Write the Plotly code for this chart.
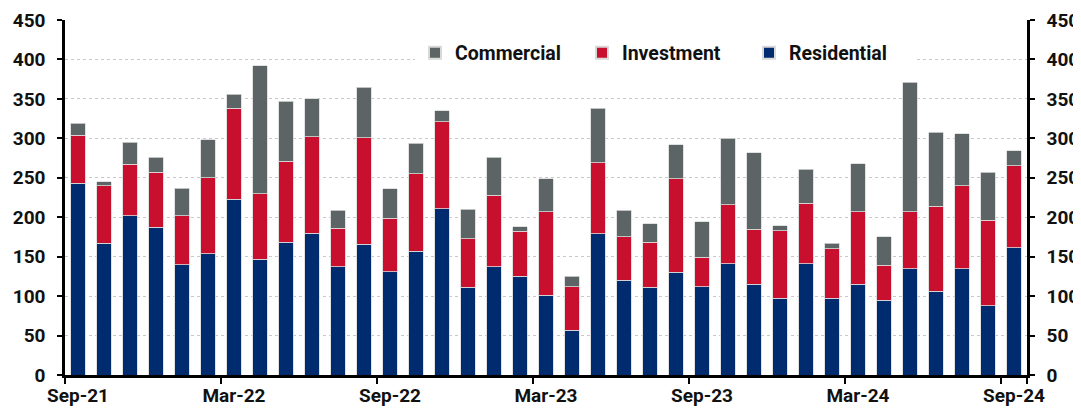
import plotly.graph_objects as go

months = ["Sep-21","Oct-21","Nov-21","Dec-21","Jan-22","Feb-22","Mar-22","Apr-22","May-22","Jun-22","Jul-22","Aug-22",
          "Sep-22","Oct-22","Nov-22","Dec-22","Jan-23","Feb-23","Mar-23","Apr-23","May-23","Jun-23","Jul-23","Aug-23",
          "Sep-23","Oct-23","Nov-23","Dec-23","Jan-24","Feb-24","Mar-24","Apr-24","May-24","Jun-24","Jul-24","Aug-24",
          "Sep-24"]
residential = [243,167,202,187,140,154,223,147,168,180,137,166,131,157,211,111,137,125,101,57,179,120,111,130,
               112,141,115,97,141,97,115,95,135,106,135,88,161]
investment = [61,73,65,70,62,96,115,83,103,122,49,135,68,98,110,62,91,57,106,55,90,55,57,119,
              37,75,70,86,77,63,92,44,72,108,105,108,104]
commercial = [15,5,28,19,35,48,18,162,76,48,23,64,37,39,14,37,48,6,42,13,69,34,24,43,
              45,84,97,6,43,7,61,36,164,94,66,61,19]
tick_labels = ["Sep-21","Mar-22","Sep-22","Mar-23","Sep-23","Mar-24","Sep-24"]
y_ticks = [0,50,100,150,200,250,300,350,400,450]

FONT = "Roboto"
FW = 700
FS = 19
line_style = dict(color="#d9d9d9", width=0.8)

fig = go.Figure()
fig.add_trace(go.Bar(x=months, y=residential, name="Residential", marker=dict(color="#002B6F", line=line_style)))
fig.add_trace(go.Bar(x=months, y=investment, name="Investment", marker=dict(color="#C8102E", line=line_style)))
fig.add_trace(go.Bar(x=months, y=commercial, name="Commercial", marker=dict(color="#5C6465", line=line_style)))
# invisible trace to carry the right-hand axis
fig.add_trace(go.Bar(x=months, y=[0]*len(months), yaxis="y2", showlegend=False, hoverinfo="skip",
                     marker=dict(color="rgba(0,0,0,0)")))

fig.update_layout(
    width=1073, height=400,
    margin=dict(l=57, r=54, t=12, b=33),
    barmode="stack", bargap=0.46,
    plot_bgcolor="white", paper_bgcolor="white",
    font=dict(family=FONT, size=FS, color="#111111", weight=FW),
    showlegend=True,
    legend=dict(orientation="h", traceorder="reversed", x=0.3638, y=0.907, xanchor="left", yanchor="middle",
                bgcolor="white", font=dict(size=19.5, family=FONT, weight=FW),
                itemwidth=30, entrywidth=122, entrywidthmode="pixels", itemsizing="constant"),
    xaxis=dict(type="category", categoryorder="array", categoryarray=months,
               tickvals=tick_labels, ticktext=tick_labels, tickson="boundaries", tickangle=0,
               ticks="outside", ticklen=6, tickwidth=2, tickcolor="black", automargin=False,
               showline=True, linecolor="black", linewidth=2.5, showgrid=False,
               range=[-0.5, len(months)-0.5], tickfont=dict(size=FS), zeroline=False,
               ticklabelstandoff=1, ticklabeloverflow="allow"),
    yaxis=dict(range=[0, 450], tickvals=y_ticks, ticks="outside", ticklen=5, tickwidth=2, tickcolor="black",
               showline=True, linecolor="black", linewidth=2.5, showgrid=True, gridcolor="#c8c8c8",
               griddash="dot", gridwidth=1, zeroline=False, tickfont=dict(size=FS), automargin=False,
               ticklabelstandoff=8, ticklabeloverflow="allow"),
    yaxis2=dict(range=[0, 450], tickvals=y_ticks, overlaying="y", side="right", ticks="outside", ticklen=5,
                tickwidth=2, tickcolor="black", showline=True, linecolor="black", linewidth=2.5,
                showgrid=False, zeroline=False, tickfont=dict(size=FS), automargin=False,
                ticklabelstandoff=8, ticklabeloverflow="allow"),
)

fig.write_html("out.html")
